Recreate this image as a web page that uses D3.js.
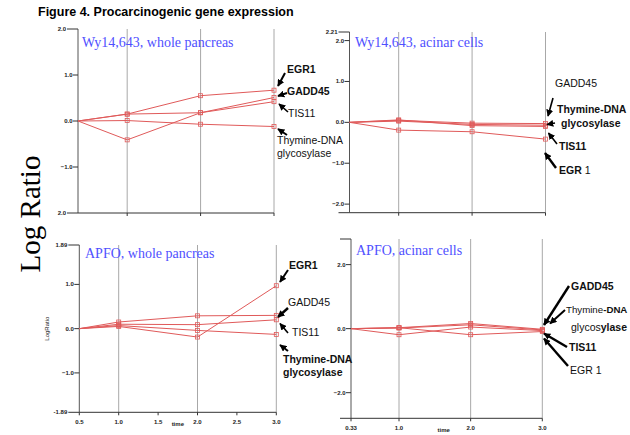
<!DOCTYPE html>
<html>
<head>
<meta charset="utf-8">
<script src="https://cdn.jsdelivr.net/npm/d3@7"></script>
<style>
  body { margin: 0; background: #fff; }
  svg { display: block; }
  .tick-lab { font: bold 6px "Liberation Sans", Arial, sans-serif; fill: #222; }
  .ann { font-family: "Liberation Sans", Arial, sans-serif; font-size: 10.5px; fill: #111; }
  .ptitle { font-family: "Liberation Serif", "Times New Roman", serif; font-size: 14px; fill: #5050ff; }
</style>
</head>
<body>
<svg id="chart" width="630" height="435"></svg>
<script>
// genes, in drawing order
const genes = ['EGR1', 'GADD45', 'TIS11', 'Thymine-DNA glycosylase'];

// time points (first one is the left edge of each panel)
const timesWy = [0.33, 1, 2, 3];
const timesApfo = [0.5, 1, 2, 3];
const timesApfoAcinar = [0.33, 1, 2, 3];

// log ratio values, one row per gene
const wyWhole = [
  [0, 0.15, 0.55, 0.67],
  [0, 0.15, 0.18, 0.51],
  [0, -0.41, 0.18, 0.42],
  [0, 0.01, -0.07, -0.12]
];
const wyAcinar = [
  [0, -0.19, -0.23, -0.41],
  [0, 0.05, -0.02, -0.03],
  [0, 0.06, -0.08, -0.1],
  [0, 0.03, -0.05, -0.07]
];
const apfoWhole = [
  [0, 0.05, -0.19, 0.97],
  [0, 0.15, 0.29, 0.3],
  [0, 0.1, 0.09, 0.2],
  [0, 0.07, -0.04, -0.13]
];
const apfoAcinar = [
  [0, -0.19, 0.05, -0.06],
  [0, 0.03, 0.16, -0.02],
  [0, 0.02, 0.12, -0.04],
  [0, 0.03, -0.19, -0.09]
];

// tick labels
const ticksWyWhole = [1, 0, -1];
const ticksWyAcinar = [2, 1, 0, -1, -2];
const ticksApfoWhole = [1, 0, -1];
const ticksApfoAcinar = [2, 0, -2];
const xTicksApfo = [0.5, 1, 1.5, 2, 2.5, 3];
const xTicksApfoAcinar = [0.33, 1, 2, 3];

const svg = d3.select('#chart');
const red = '#e05a5a';

// panel layout
const panels = [
  { title: 'Wy14,643, whole pancreas', times: timesWy, values: wyWhole,
    x0: 78, x1: 274, y0: 29, y1: 213, ymax: 2, yticks: ticksWyWhole,
    edgeTop: '2.0', edgeBot: '2.0', titleX: 82, titleY: 47 },
  { title: 'Wy14,643, acinar cells', times: timesWy, values: wyAcinar,
    x0: 349.5, x1: 545.5, y0: 32, y1: 212.7, ymax: 2.21, yticks: ticksWyAcinar,
    edgeTop: '2.21', edgeBot: null, titleX: 355, titleY: 47 },
  { title: 'APFO, whole pancreas', times: timesApfo, values: apfoWhole,
    x0: 79.3, x1: 276.3, y0: 245, y1: 412.3, ymax: 1.89, yticks: ticksApfoWhole,
    edgeTop: '1.89', edgeBot: '-1.89', titleX: 85, titleY: 258,
    xticks: xTicksApfo, yLabel: 'LogRatio' },
  { title: 'APFO, acinar cells', times: timesApfoAcinar, values: apfoAcinar,
    x0: 351, x1: 542.3, y0: 239, y1: 418.3, ymax: 2.8, yticks: ticksApfoAcinar,
    edgeTop: null, edgeBot: null, titleX: 356, titleY: 255,
    xticks: xTicksApfoAcinar }
];

// arrow defs
svg.append('defs').append('marker')
  .attr('id', 'ah')
  .attr('viewBox', '0 -5 10 10')
  .attr('refX', 9)
  .attr('refY', 0)
  .attr('markerWidth', 7)
  .attr('markerHeight', 7)
  .attr('markerUnits', 'userSpaceOnUse')
  .attr('orient', 'auto')
  .append('path')
  .attr('d', 'M0,-5L10,0L0,5Z')
  .attr('fill', '#000');

panels.forEach((p) => {
  const x = d3.scaleLinear().domain([p.times[0], 3]).range([p.x0, p.x1]);
  const y = d3.scaleLinear().domain([-p.ymax, p.ymax]).range([p.y1, p.y0]);
  const g = svg.append('g');

  // vertical grid at time points
  g.selectAll('line.grid')
    .data(p.times.slice(1))
    .join('line')
    .attr('x1', (d) => x(d)).attr('x2', (d) => x(d))
    .attr('y1', p.y0).attr('y2', p.y1)
    .attr('stroke', '#a8a8a8').attr('stroke-width', 1);

  // left + bottom axis
  g.append('line')
    .attr('x1', p.x0).attr('x2', p.x0).attr('y1', p.y0).attr('y2', p.y1)
    .attr('stroke', '#555');
  g.append('line')
    .attr('x1', p.x0).attr('x2', p.x1).attr('y1', p.y1).attr('y2', p.y1)
    .attr('stroke', '#333');

  // y ticks
  g.selectAll('line.yt')
    .data(p.yticks)
    .join('line')
    .attr('x1', p.x0 - 5).attr('x2', p.x0)
    .attr('y1', (d) => y(d)).attr('y2', (d) => y(d))
    .attr('stroke', '#333');
  g.selectAll('text.yl')
    .data(p.yticks)
    .join('text')
    .attr('class', 'tick-lab')
    .attr('x', p.x0 - 5.5)
    .attr('y', (d) => y(d) + 2)
    .attr('text-anchor', 'end')
    .text((d) => d3.format('.1f')(d));

  // boundary labels with longer ticks
  [[p.edgeTop, p.y0], [p.edgeBot, p.y1]].forEach(([lab, yy]) => {
    g.append('line')
      .attr('x1', p.x0 - 11).attr('x2', p.x0).attr('y1', yy).attr('y2', yy)
      .attr('stroke', '#333');
    if (lab) {
      g.append('text').attr('class', 'tick-lab')
        .attr('x', p.x0 - 12).attr('y', yy + 2)
        .attr('text-anchor', 'end').text(lab);
    }
  });

  // x ticks
  const xt = p.xticks || p.times.slice(1);
  g.selectAll('line.xt')
    .data(xt)
    .join('line')
    .attr('x1', (d) => x(d)).attr('x2', (d) => x(d))
    .attr('y1', p.y1).attr('y2', p.y1 + 3)
    .attr('stroke', '#333');
  if (p.xticks) {
    g.selectAll('text.xl')
      .data(p.xticks)
      .join('text')
      .attr('class', 'tick-lab')
      .attr('x', (d) => x(d))
      .attr('y', p.y1 + 12)
      .attr('text-anchor', 'middle')
      .text((d) => (d === 0.33 ? '0.33' : d3.format('.1f')(d)));
    g.append('text').attr('class', 'tick-lab')
      .attr('x', (p.x0 + p.x1) / 2 + (p.yLabel ? 0 : -3))
      .attr('y', p.y1 + 14)
      .attr('text-anchor', 'middle')
      .text('time');
  }
  if (p.yLabel) {
    g.append('text').attr('class', 'tick-lab')
      .attr('transform', `translate(49,${(p.y0 + p.y1) / 2}) rotate(-90)`)
      .attr('text-anchor', 'middle')
      .style('font-weight', 'normal')
      .text(p.yLabel);
  }

  // series
  const line = d3.line().x((d, i) => x(p.times[i])).y((d) => y(d));
  p.values.forEach((vals) => {
    g.append('path')
      .attr('d', line(vals))
      .attr('fill', 'none')
      .attr('stroke', red)
      .attr('stroke-width', 1);
    g.selectAll(null)
      .data(vals.slice(1))
      .join('rect')
      .attr('x', (d, i) => x(p.times[i + 1]) - 2)
      .attr('y', (d) => y(d) - 2)
      .attr('width', 4).attr('height', 4)
      .attr('fill', 'none')
      .attr('stroke', red)
      .attr('stroke-width', 0.8);
  });

  g.append('text').attr('class', 'ptitle')
    .attr('x', p.titleX).attr('y', p.titleY)
    .text(p.title);
});

// gene annotations: [parts [text, bold, inline], tx, ty, arrow x1,y1,x2,y2, width, fontSize]
const annotations = [
  [[['EGR1', true]], 287, 73, 285, 73, 278, 86, 2],
  [[['GADD45', true]], 287, 95, 287, 93, 278, 96, 2],
  [[['TIS11', false]], 288, 117, 288, 112, 279, 104, 1.6],
  [[['Thymine-DNA', false], ['glycosylase', false]], 277, 144, 287, 135, 278, 129, 2],

  [[['GADD45', false]], 555, 87, null],
  [[['Thymine-DNA', true]], 557, 113, 553, 98, 548, 116, 1.6],
  [[['glycosylase', true]], 561, 126.5, 555, 123, 547, 124.5, 1.6],
  [[['TIS11', true]], 559, 150, 557, 144, 548.5, 133, 1.6],
  [[['EGR', true], [' 1', false, true]], 559, 174, 556, 168, 545, 153, 2.4],

  [[['EGR1', true]], 289, 269, 288, 270, 280, 282, 2],
  [[['GADD45', false]], 288, 306, 288, 308, 278, 317, 2.4],
  [[['TIS11', false]], 292, 336, 288, 333, 280, 323.5, 1.6],
  [[['Thymine-DNA', true], ['glycosylase', true]], 283, 363, 288, 351, 280, 345, 2],

  [[['GADD45', true]], 571, 290, 569, 286, 544, 325, 2.4],
  [[['Thymine', false], ['-DNA', true, true]], 566, 312.5, 565, 310, 550, 323.5, 2, 9.7],
  [[['glycos', false], ['ylase', true, true]], 571, 330.5, null],
  [[['TIS11', true]], 569, 350.5, 567, 347, 544, 333.5, 2.4],
  [[['EGR 1', false]], 570, 374, 568, 366, 544, 338.5, 2.4]
];

annotations.forEach((a) => {
  const [parts, tx, ty, ax1, ay1, ax2, ay2, w, fs] = a;
  const t = svg.append('text').attr('class', 'ann').attr('x', tx).attr('y', ty);
  if (fs) t.style('font-size', fs + 'px');
  let row = 0;
  parts.forEach(([txt, bold, inline]) => {
    const sp = t.append('tspan').text(txt).attr('font-weight', bold ? 'bold' : 'normal');
    if (!inline && row > 0) sp.attr('x', tx).attr('dy', 13);
    row++;
  });
  if (ax1 != null) {
    svg.append('line')
      .attr('x1', ax1).attr('y1', ay1).attr('x2', ax2).attr('y2', ay2)
      .attr('stroke', '#000').attr('stroke-width', w)
      .attr('marker-end', 'url(#ah)');
  }
});

// figure title
svg.append('text')
  .attr('x', 38).attr('y', 16)
  .attr('font-family', '"Liberation Sans", Arial, sans-serif')
  .attr('font-weight', 'bold')
  .attr('font-size', 12.5)
  .text('Figure 4. Procarcinogenic gene expression');

// big y label
svg.append('text')
  .attr('transform', 'translate(40,214) rotate(-90)')
  .attr('text-anchor', 'middle')
  .attr('font-family', '"Liberation Serif", "Times New Roman", serif')
  .attr('font-size', 29)
  .text('Log Ratio');
</script>
</body>
</html>
